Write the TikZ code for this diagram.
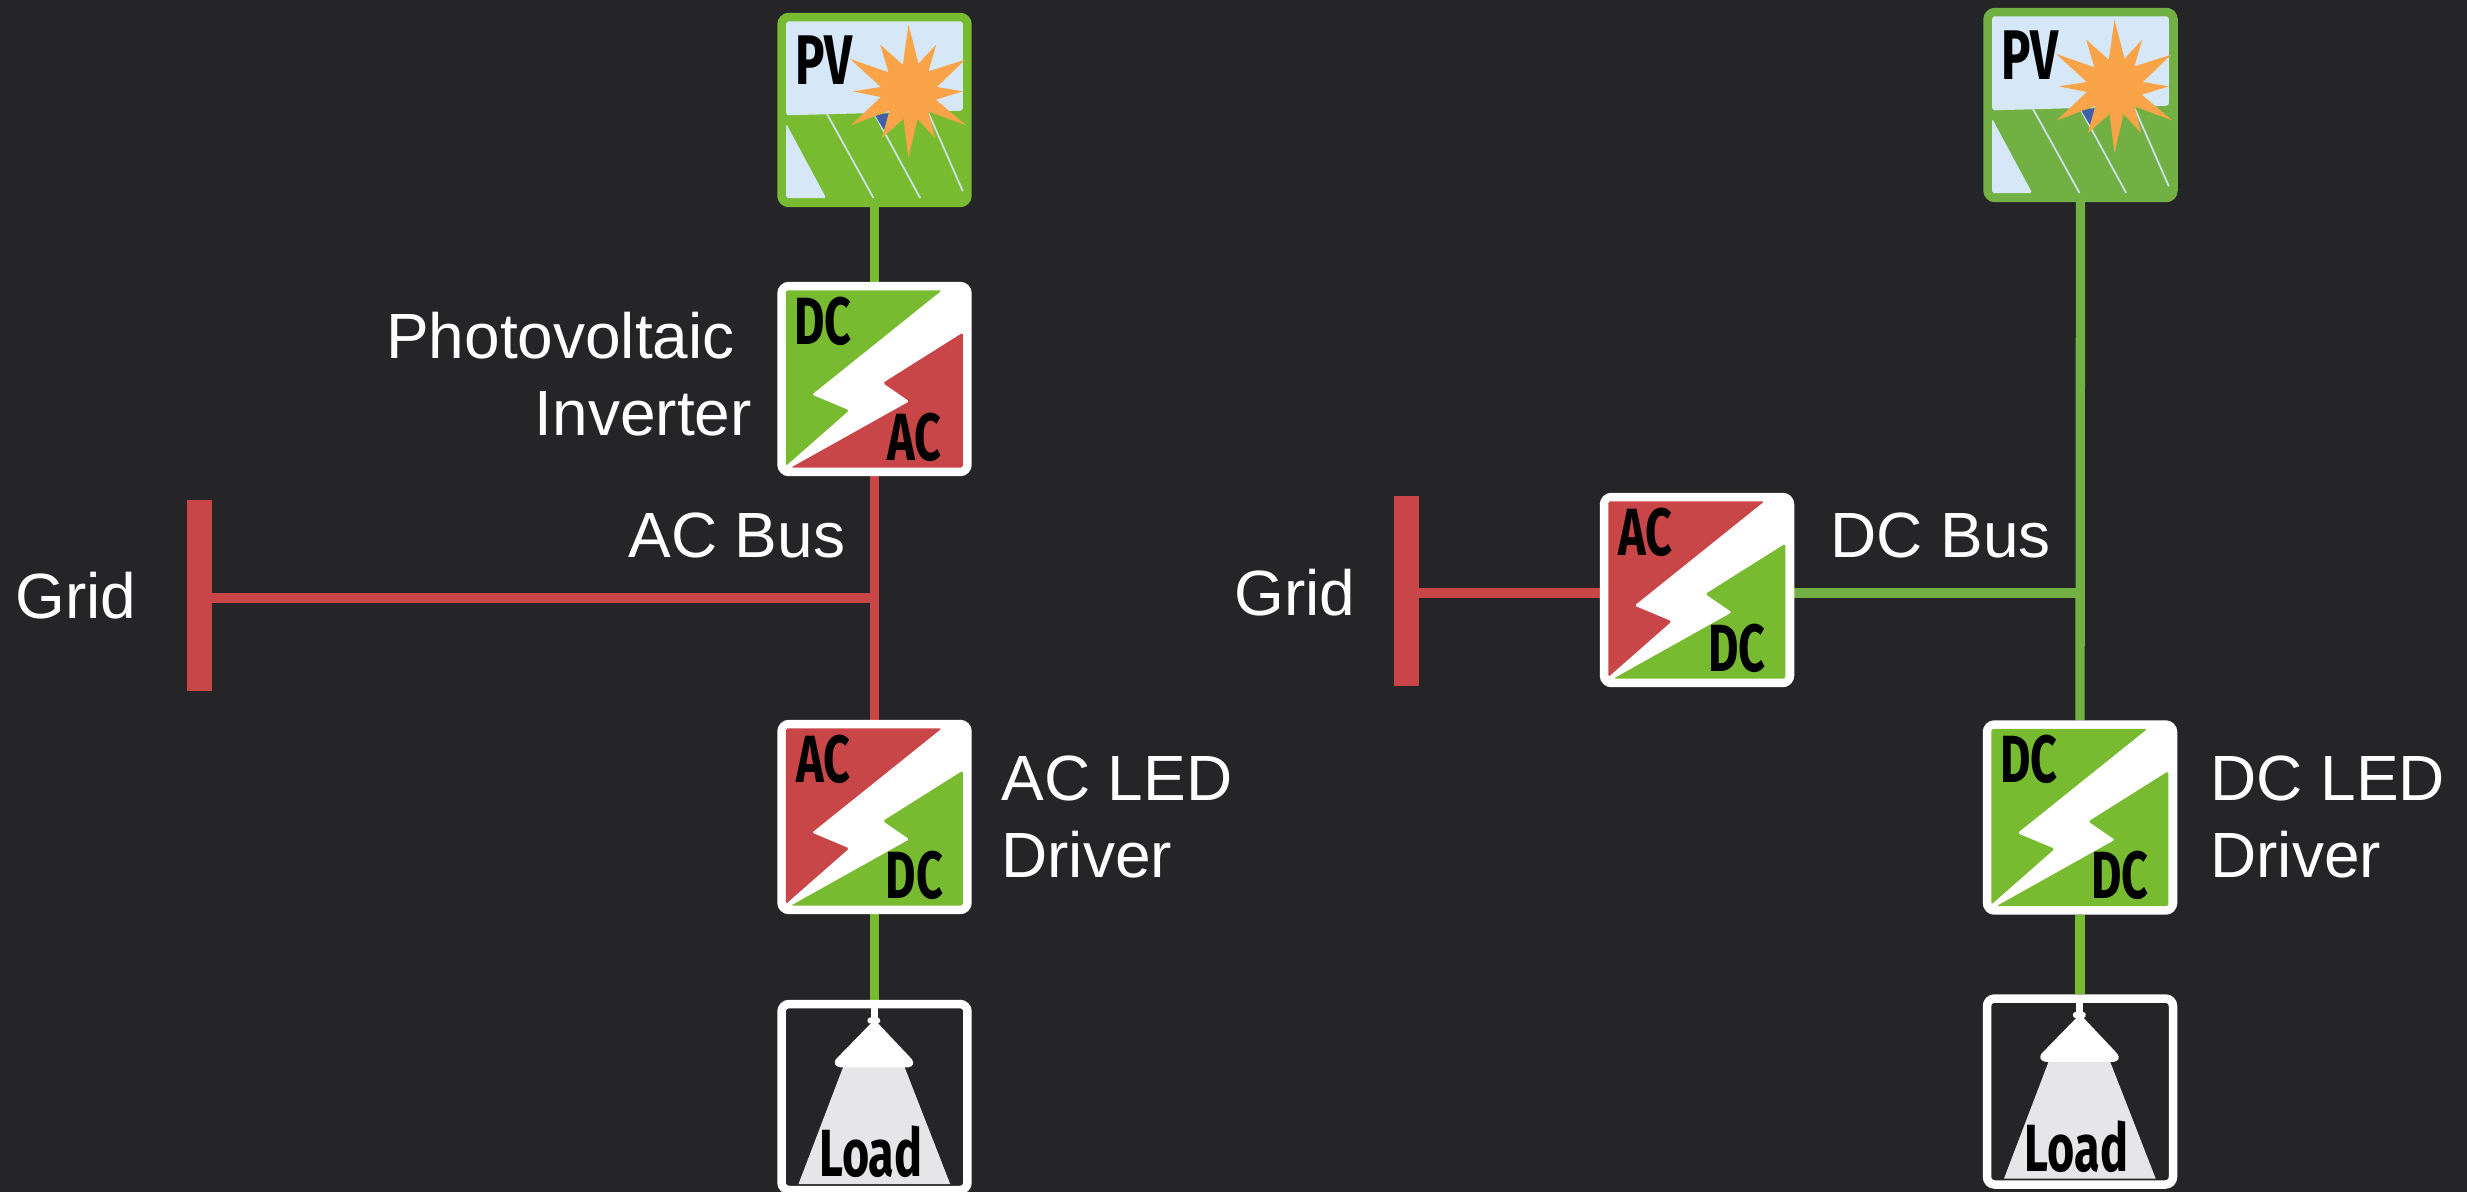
\documentclass[tikz,border=0pt]{standalone}
\usepackage{fontspec}
\setmainfont{Liberation Sans}
\newfontfamily\iconfont{Fira Sans}[UprightFont={* Bold},BoldFont={* Bold}]
\pgfdeclarelayer{bottom}
\pgfdeclarelayer{wires}
\pgfsetlayers{bottom,wires,main}
\definecolor{bgc}{HTML}{252527}
\definecolor{gr}{HTML}{78BB31}
\definecolor{grb}{HTML}{72B043}
\definecolor{rd}{HTML}{C84647}
\definecolor{sky}{HTML}{D6E7F7}
\definecolor{sun}{HTML}{F9A448}
\definecolor{pan}{HTML}{3F60A8}
\definecolor{beam}{HTML}{E6E6E8}
\tikzset{
  unitbox/.style={rectangle,minimum size=3.72cm,inner sep=0pt,line width=1.7mm,rounded corners=1.5mm,draw=white},
  wire/.style={line width=1.86mm},
  barnode/.style={rectangle,fill=rd,minimum width=0.5cm,minimum height=3.82cm,inner sep=0pt},
  lbl/.style={text=white,font=\fontsize{36.4}{43.8}\selectfont,inner sep=0pt},
  ic/.style={text=black,inner sep=0pt,font=\fontsize{38}{38}\selectfont\iconfont},
  zoomed/.style={x=0.006667cm,y=-0.006667cm},
}
% #1 name, #2,#3 centre, #4 upper colour, #5 lower colour, #6 upper text, #7 lower text
\newcommand{\conv}[7]{%
  \node[unitbox,fill=white] (#1) at (#2,#3) {};
  \begin{scope}[shift={(#2-97-15.67,#3-97-11.67)},zoomed]
    \fill[#4,rounded corners=1pt] (72,60)--(540,60)--(150,373)--(262,420)--(72,587)--cycle;
    \fill[#5,rounded corners=1pt] (603,187)--(603,592)--(87,592)--(443,393)--(363,338)--cycle;
    \node[ic] at (184,152) {\scalebox{0.7}[1]{#6}};
    \node[ic] at (458,500) {\scalebox{0.7}[1]{#7}};
  \end{scope}}
% #1 name, #2,#3 centre, #4 green tone
\newcommand{\pvicon}[4]{%
  \node[unitbox,draw=#4,fill=#4] (#1) at (#2,#3) {};
  \begin{scope}[shift={(#2-97-17.33,#3-97-13.33)},zoomed]
    \fill[sky,rounded corners=1.5pt] (78,65)--(608,65)--(608,333)--(78,347)--cycle;
    \fill[sky,rounded corners=1pt] (78,372)--(198,595)--(78,595)--cycle;
    \draw[sky!92!#4,line width=0.35mm] (200,342)--(340,595) (345,347)--(480,595) (505,340)--(608,575);
    \fill[pan] (345,347)--(390,340)--(372,392)--cycle;
    \fill[sun] (445,75)--(475,192)--(528,135)--(505,215)--(615,180)--(530,262)--(608,275)--(527,300)--(618,377)--(505,335)--(525,415)--(472,358)--(445,475)--(430,358)--(365,415)--(388,333)--(272,377)--(362,292)--(278,275)--(362,262)--(270,178)--(385,218)--(360,135)--(428,195)--cycle;
    \node[ic,font=\fontsize{40}{40}\selectfont\iconfont] at (192,180) {\scalebox{0.7}[1]{PV}};
  \end{scope}}
\newcommand{\loadicon}[3]{%
  \node[unitbox,fill=bgc] (#1) at (#2,#3) {};
  \begin{scope}[shift={(#2-97-17.33,#3-97-20)},zoomed]
    \fill[beam] (250,258)--(432,258)--(570,612)--(115,612)--cycle;
    \fill[white] (332,60) rectangle (352,118);
    \fill[white,rounded corners=1pt] (322,113)--(360,113)--(360,130)--(322,130)--cycle;
    \fill[white,rounded corners=2pt] (340,122)--(346,122)--(462,245)--(455,262)--(230,262)--(220,245)--cycle;
    \node[ic,anchor=base] at (332,590) {\scalebox{0.7}[1]{Load}};
  \end{scope}}
\begin{document}
\begin{tikzpicture}[x=0.02cm,y=-0.02cm]
\useasboundingbox (0,0) rectangle (2467,1191);
\begin{pgfonlayer}{bottom}
\fill[bgc] (-10,-10) rectangle (2477,1201);
\end{pgfonlayer}

% left column
\pvicon{pva}{874.5}{110}{gr}
\conv{inv}{874.5}{379}{gr}{rd}{DC}{AC}
\conv{acd}{874.5}{817}{rd}{gr}{AC}{DC}
\loadicon{loa}{874.5}{1097}
\node[barnode] (gridbara) at (199.5,595.5) {};
\coordinate (acbus) at (874.5,598);

% right column
\pvicon{pvb}{2080.5}{105}{grb}
\conv{gcv}{1697}{590}{rd}{gr}{AC}{DC}
\conv{dcd}{2080}{817.5}{gr}{gr}{DC}{DC}
\loadicon{lob}{2080}{1091.5}
\node[barnode] (gridbarb) at (1406.5,591) {};
\coordinate (dcbus) at (2080.5,593);

% connectors
\begin{pgfonlayer}{wires}
  \draw[wire,gr] (pva.south)--(inv.north);
  \draw[wire,rd] (inv.south)--(acd.north);
  \draw[wire,gr] (acd.south)--(loa.north);
  \draw[wire,rd] (acbus -| gridbara.east)--(acbus);
  \draw[wire,grb] (pvb.south)--(dcd.north);
  \draw[wire,gr] (dcd.south)--(lob.north);
  \draw[wire,rd] (gcv.west |- dcbus)--(dcbus -| gridbarb.east);
  \draw[wire,grb] (gcv.east |- dcbus)--(dcbus);
\end{pgfonlayer}

% labels
\node[lbl,align=right,anchor=east] (linv) at (752,374) {Photovoltaic\hspace*{0.34cm}\\Inverter};
\node[lbl,anchor=base west] (lgrida) at (15,618) {Grid};
\node[lbl,anchor=base west] (lacbus) at (628,557) {AC Bus};
\node[lbl,align=left,anchor=west] (lacd) at (1001,817) {AC LED\\Driver};
\node[lbl,anchor=base west] (lgridb) at (1234,615) {Grid};
\node[lbl,anchor=base west] (ldcbus) at (1830,557) {DC Bus};
\node[lbl,align=left,anchor=west] (ldcd) at (2210,817) {DC LED\\Driver};
\end{tikzpicture}
\end{document}
